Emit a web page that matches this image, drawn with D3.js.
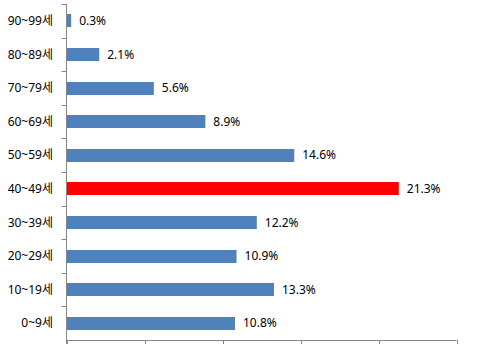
<!DOCTYPE html>
<html>
<head>
<meta charset="utf-8">
<script src="https://cdn.jsdelivr.net/npm/d3@7"></script>
<style>
  html, body { margin: 0; padding: 0; background: #fff; }
  svg text { font-family: "Noto Sans", "Noto Sans CJK KR", sans-serif; font-size: 12px; fill: #000; }
</style>
</head>
<body>
<svg id="chart" width="486" height="352"></svg>
<script>
const categories = ["0~9세", "10~19세", "20~29세", "30~39세", "40~49세", "50~59세", "60~69세", "70~79세", "80~89세", "90~99세"];
const values = [10.8, 13.3, 10.9, 12.2, 21.3, 14.6, 8.9, 5.6, 2.1, 0.3];
const highlight = "40~49세";
const xTicks = [0, 5, 10, 15, 20, 25];

(function () {
const svg = d3.select("#chart");
const mLeft = 66.5, mRight = 456.5, mTop = 4, mBottom = 340;

const x = d3.scaleLinear().domain([0, 25]).range([mLeft, mRight]);
const yBand = d3.scaleBand().domain(categories.slice().reverse()).range([mTop, mBottom]);

const data = categories.map((c, i) => ({ c, v: values[i] }));
const barH = 13;

svg.selectAll("rect.bar").data(data).enter().append("rect")
  .attr("class", "bar")
  .attr("x", x(0))
  .attr("y", d => Math.round(yBand(d.c) + (yBand.bandwidth() - barH) / 2))
  .attr("width", d => x(d.v) - x(0))
  .attr("height", barH)
  .attr("fill", d => d.c === highlight ? "#FF0000" : "#4F81BD");

svg.selectAll("text.val").data(data).enter().append("text")
  .attr("class", "val")
  .attr("x", d => x(d.v) + 8)
  .attr("y", d => yBand(d.c) + yBand.bandwidth() / 2)
  .attr("dy", "0.35em")
  .text(d => d.v.toFixed(1) + "%");

svg.selectAll("text.cat").data(data).enter().append("text")
  .attr("class", "cat")
  .attr("x", 53)
  .attr("y", d => yBand(d.c) + yBand.bandwidth() / 2)
  .attr("dy", "0.35em")
  .attr("text-anchor", "end")
  .text(d => d.c);

const axisColor = "#868686";
svg.append("line").attr("x1", mLeft).attr("x2", mLeft).attr("y1", mTop).attr("y2", mBottom + 4)
  .attr("stroke", axisColor);
const bounds = d3.range(categories.length).map(i => mTop + i * yBand.step());
svg.selectAll("line.ytick").data(bounds).enter().append("line")
  .attr("x1", mLeft - 5).attr("x2", mLeft).attr("y1", d => Math.round(d) + 0.5).attr("y2", d => Math.round(d) + 0.5)
  .attr("stroke", axisColor);

svg.append("line").attr("x1", mLeft).attr("x2", mRight).attr("y1", mBottom + 0.5).attr("y2", mBottom + 0.5)
  .attr("stroke", axisColor);
svg.selectAll("line.xtick").data(xTicks).enter().append("line")
  .attr("x1", d => Math.round(x(d)) + 0.5).attr("x2", d => Math.round(x(d)) + 0.5)
  .attr("y1", mBottom).attr("y2", mBottom + 4)
  .attr("stroke", axisColor);
})();
</script>
</body>
</html>
